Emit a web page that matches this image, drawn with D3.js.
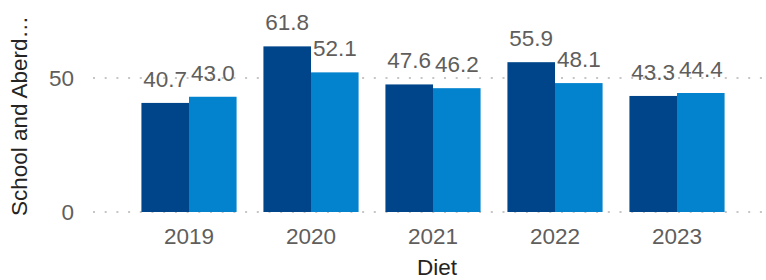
<!DOCTYPE html>
<html>
<head>
<meta charset="utf-8">
<script src="https://cdn.jsdelivr.net/npm/d3@7"></script>
<style>
  body { margin: 0; background: #fff; }
  text { font-family: "Liberation Sans", Arial, sans-serif; }
</style>
</head>
<body>
<script>
(function(){

    //chart data
    var years = ["2019", "2020", "2021", "2022", "2023"];
    var seriesA = [40.7, 61.8, 47.6, 55.9, 43.3]; //dark bars
    var seriesB = [43.0, 52.1, 46.2, 48.1, 44.4]; //light bars
    var yTicks = [0, 50];

    var width = 766, height = 280;
    var colors = ["#00458A", "#0382CD"];
    var fontSize = "22.5px";

    var svg = d3.select("body").append("svg")
        .attr("width", width)
        .attr("height", height);

    //scales
    var x = d3.scaleBand()
        .domain(years)
        .range([128, 738])
        .paddingInner(0.22)
        .paddingOuter(0.11);

    var x1 = d3.scaleBand()
        .domain([0, 1])
        .range([0, x.bandwidth()]);

    var y = d3.scaleLinear()
        .domain([0, 50])
        .range([212, 78]);

    //dotted gridlines
    svg.selectAll(".grid")
        .data(yTicks)
        .enter()
        .append("line")
        .attr("x1", 93)
        .attr("x2", 762)
        .attr("y1", function(d){ return y(d); })
        .attr("y2", function(d){ return y(d); })
        .attr("stroke", "#c8c6c4")
        .attr("stroke-width", 2)
        .attr("stroke-dasharray", "2,9.7");

    //y tick labels
    svg.selectAll(".ytick")
        .data(yTicks)
        .enter()
        .append("text")
        .attr("x", 74)
        .attr("y", function(d){ return y(d); })
        .attr("dy", "0.36em")
        .attr("text-anchor", "end")
        .attr("fill", "#605E5C")
        .style("font-size", fontSize)
        .text(function(d){ return d; });

    //bar groups
    var groups = svg.selectAll(".year")
        .data(years)
        .enter()
        .append("g")
        .attr("transform", function(d){ return "translate(" + x(d) + ",0)"; });

    groups.selectAll("rect")
        .data(function(d, i){ return [seriesA[i], seriesB[i]]; })
        .enter()
        .append("rect")
        .attr("x", function(d, j){ return x1(j); })
        .attr("width", x1.bandwidth())
        .attr("y", function(d){ return y(d); })
        .attr("height", function(d){ return y(0) - y(d); })
        .attr("fill", function(d, j){ return colors[j]; });

    //data labels
    groups.selectAll(".lbl")
        .data(function(d, i){ return [seriesA[i], seriesB[i]]; })
        .enter()
        .append("text")
        .attr("x", function(d, j){ return x1(j) + x1.bandwidth() / 2; })
        .attr("y", function(d){ return y(d) - 16; })
        .attr("text-anchor", "middle")
        .attr("fill", "#605E5C")
        .style("font-size", fontSize)
        .text(function(d){ return d.toFixed(1); });

    //x tick labels
    svg.selectAll(".xtick")
        .data(years)
        .enter()
        .append("text")
        .attr("x", function(d){ return x(d) + x.bandwidth() / 2; })
        .attr("y", 244)
        .attr("text-anchor", "middle")
        .attr("fill", "#605E5C")
        .style("font-size", fontSize)
        .text(function(d){ return d; });

    //axis titles
    svg.append("text")
        .attr("x", 437)
        .attr("y", 275)
        .attr("text-anchor", "middle")
        .attr("fill", "#252423")
        .style("font-size", fontSize)
        .text("Diet");

    svg.append("text")
        .attr("transform", "translate(27,116) rotate(-90)")
        .attr("text-anchor", "middle")
        .attr("fill", "#252423")
        .style("font-size", fontSize)
        .text("School and Aberd…");
})();
</script>
</body>
</html>
